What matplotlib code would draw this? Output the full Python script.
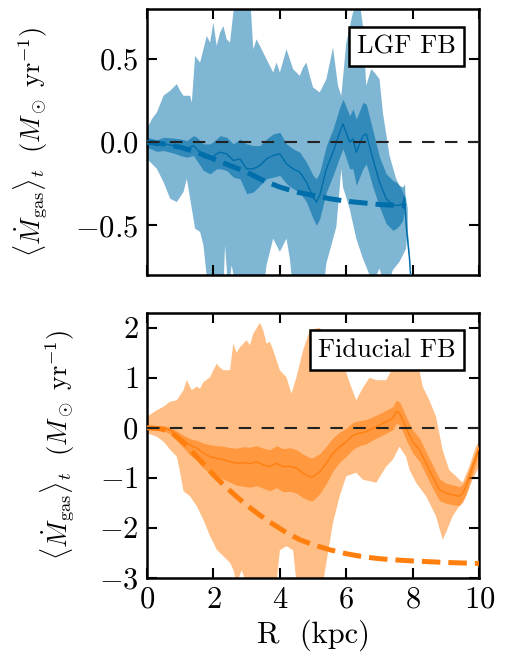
import matplotlib
matplotlib.use("Agg")
import matplotlib.pyplot as plt
import numpy as np

plt.rcParams['font.family'] = 'serif'
plt.rcParams['font.serif'] = ['cmr10']
plt.rcParams['mathtext.fontset'] = 'cm'
plt.rcParams['axes.formatter.use_mathtext'] = True
plt.rcParams['axes.unicode_minus'] = True

# ---- top panel (LGF FB) ----
r_top = [0, 0.3, 0.5, 0.8, 1.0, 1.2, 1.4, 1.5, 1.7, 1.9, 2.1, 2.2, 2.4, 2.6, 2.8, 3.0,
         3.2, 3.4, 3.6, 3.8, 4.0, 4.2, 4.4, 4.6, 4.8, 5.0, 5.1, 5.2, 5.4, 5.6, 5.8, 5.9,
         6.1, 6.2, 6.3, 6.5, 6.6, 6.8, 7.0, 7.2, 7.4, 7.5, 7.6, 7.7, 7.75, 7.8, 7.9, 7.95, 8.0]
mean_top = [0.0, -0.02, -0.01, -0.02, -0.03, -0.04, -0.02, -0.04, -0.09, -0.10, -0.07, -0.06,
            -0.07, -0.11, -0.10, -0.16, -0.16, -0.14, -0.10, -0.08, -0.07, -0.13, -0.16, -0.18,
            -0.24, -0.33, -0.36, -0.32, -0.16, -0.06, 0.06, 0.11, 0.0, 0.02, -0.06, 0.04, 0.05,
            -0.10, -0.24, -0.34, -0.38, -0.38, -0.38, -0.37, -0.33, -0.50, -0.70, -0.85, -0.95]
err_top = [0.03, 0.035, 0.04, 0.045, 0.05, 0.05, 0.06, 0.07, 0.08, 0.09, 0.09, 0.10, 0.10,
           0.10, 0.12, 0.15, 0.14, 0.12, 0.12, 0.13, 0.13, 0.12, 0.12, 0.12, 0.12, 0.13, 0.14,
           0.14, 0.14, 0.14, 0.15, 0.15, 0.16, 0.18, 0.20, 0.20, 0.18, 0.17, 0.15, 0.15, 0.15,
           0.14, 0.12, 0.10, 0.08, 0.05, 0.03, 0.02, 0.0]

r_top_hi = [0, 0.15, 0.3, 0.5, 0.7, 0.9, 1.0, 1.1, 1.3, 1.35, 1.45, 1.6, 1.7, 1.8, 1.9, 2.0,
            2.1, 2.2, 2.3, 2.4, 2.5, 2.6, 2.7, 3.1, 3.2, 3.3, 3.4, 3.5, 3.6, 3.8, 3.9, 4.0,
            4.2, 4.3, 4.4, 4.6, 4.7, 4.8, 4.9, 5.0, 5.2, 5.4, 5.6, 5.75, 5.85, 6.0, 6.2, 6.4,
            6.5, 6.6, 6.75, 6.85, 7.0, 7.1, 7.3, 7.5, 7.65, 7.8, 7.85]
hi_top = [0.08, 0.14, 0.18, 0.28, 0.31, 0.35, 0.31, 0.28, 0.28, 0.24, 0.52, 0.48, 0.56, 0.64,
          0.60, 0.72, 0.58, 0.66, 0.70, 0.62, 0.60, 0.78, 0.90, 0.90, 0.56, 0.62, 0.58, 0.54,
          0.50, 0.42, 0.48, 0.42, 0.56, 0.50, 0.44, 0.40, 0.45, 0.48, 0.40, 0.33, 0.30, 0.38,
          0.57, 0.34, 0.28, 0.60, 0.78, 0.85, 0.70, 0.34, 0.44, 0.42, 0.38, 0.18, -0.08,
          -0.22, -0.28, -0.34, -0.40]
r_top_lo = [0, 0.3, 0.5, 0.7, 0.9, 1.1, 1.2, 1.3, 1.45, 1.6, 1.7, 1.85, 2.3, 2.35, 2.45, 2.55,
            2.7, 3.5, 3.6, 3.8, 4.0, 4.2, 4.3, 4.4, 5.3, 5.4, 5.7, 5.85, 5.9, 6.1, 6.3, 6.5,
            6.8, 7.0, 7.2, 7.4, 7.6, 7.8, 7.85]
lo_top = [-0.10, -0.16, -0.24, -0.34, -0.36, -0.30, -0.22, -0.34, -0.52, -0.54, -0.62, -0.90,
          -0.90, -0.62, -0.90, -0.74, -0.90, -0.90, -0.74, -0.58, -0.66, -0.58, -0.70, -0.90,
          -0.90, -0.73, -0.51, -0.16, -0.27, -0.40, -0.58, -0.70, -0.85, -0.76, -0.90, -0.77,
          -0.72, -0.64, -0.50]

r_mod_top = [0, 0.5, 1.0, 1.5, 2.0, 2.5, 3.0, 3.5, 4.0, 4.5, 5.0, 5.5, 6.0, 6.5, 7.0, 7.5, 7.8]
mod_top = [0, -0.01, -0.03, -0.06, -0.10, -0.14, -0.18, -0.23, -0.27, -0.30, -0.32, -0.34,
           -0.355, -0.365, -0.375, -0.38, -0.385]

# ---- bottom panel (Fiducial FB) ----
r_bot = [0, 0.3, 0.5, 0.7, 0.9, 1.1, 1.3, 1.5, 1.7, 1.9, 2.1, 2.3, 2.5, 2.7, 2.9, 3.1, 3.3,
         3.5, 3.7, 3.9, 4.1, 4.3, 4.5, 4.7, 4.9, 5.0, 5.2, 5.4, 5.6, 5.8, 6.0, 6.2, 6.4, 6.6,
         6.8, 7.0, 7.2, 7.4, 7.5, 7.6, 7.7, 7.8, 8.0, 8.2, 8.4, 8.6, 8.8, 9.0, 9.2, 9.4, 9.5,
         9.6, 9.8, 10.0]
mean_bot = [0.0, 0.0, -0.01, -0.05, -0.15, -0.25, -0.35, -0.41, -0.51, -0.58, -0.61, -0.64,
            -0.68, -0.71, -0.70, -0.72, -0.68, -0.74, -0.78, -0.71, -0.78, -0.77, -0.81, -0.91,
            -0.98, -0.98, -0.88, -0.71, -0.51, -0.38, -0.28, -0.15, -0.11, -0.08, -0.01, 0.05,
            0.12, 0.19, 0.32, 0.29, 0.15, -0.01, -0.28, -0.44, -0.71, -0.98, -1.24, -1.31,
            -1.34, -1.37, -1.31, -1.18, -0.78, -0.38]
err_bot_hi = [0.03, 0.04, 0.05, 0.06, 0.08, 0.10, 0.13, 0.16, 0.20, 0.24, 0.25, 0.27, 0.28,
              0.30, 0.32, 0.33, 0.32, 0.33, 0.34, 0.35, 0.36, 0.37, 0.37, 0.38, 0.38, 0.38,
              0.36, 0.34, 0.31, 0.29, 0.27, 0.26, 0.25, 0.24, 0.23, 0.23, 0.23, 0.23, 0.23,
              0.23, 0.23, 0.23, 0.23, 0.23, 0.23, 0.23, 0.22, 0.20, 0.20, 0.19, 0.18, 0.17,
              0.14, 0.10]
err_bot_lo = [0.03, 0.04, 0.05, 0.08, 0.11, 0.15, 0.20, 0.24, 0.30, 0.34, 0.36, 0.39, 0.41,
              0.44, 0.47, 0.47, 0.48, 0.47, 0.48, 0.49, 0.50, 0.50, 0.50, 0.49, 0.48, 0.47,
              0.44, 0.40, 0.35, 0.31, 0.29, 0.28, 0.25, 0.24, 0.23, 0.23, 0.23, 0.23, 0.23,
              0.23, 0.23, 0.23, 0.23, 0.23, 0.23, 0.23, 0.22, 0.20, 0.20, 0.19, 0.18, 0.17,
              0.14, 0.10]

r_bot_hi = [0, 0.3, 0.5, 0.7, 0.9, 1.1, 1.2, 1.35, 1.5, 1.6, 1.7, 1.9, 2.0, 2.1, 2.2, 2.3,
            2.5, 2.6, 2.7, 2.8, 3.0, 3.1, 3.2, 3.4, 3.5, 3.6, 3.7, 3.8, 4.0, 4.2, 4.35, 4.5,
            4.7, 4.9, 5.2, 5.6, 6.0, 6.1, 6.3, 6.5, 6.7, 6.9, 7.2, 7.4, 7.8, 8.2, 8.3, 8.5,
            8.7, 8.9, 9.1, 9.3, 9.5, 9.7, 9.9, 10.0]
hi_bot = [0.22, 0.35, 0.42, 0.52, 0.55, 0.75, 0.95, 0.75, 0.82, 0.78, 0.91, 1.01, 1.15, 1.28,
          1.20, 1.15, 1.15, 1.68, 1.50, 1.61, 1.75, 1.65, 1.88, 2.10, 1.95, 1.68, 1.72, 1.55,
          1.15, 1.01, 0.68, 1.01, 1.55, 1.95, 2.00, 1.60, 1.10, 0.90, 0.55, 0.80, 1.00, 0.95,
          0.95, 1.20, 1.30, 1.15, 0.82, 0.55, 0.22, -0.45, -0.85, -0.97, -1.10, -0.78, -0.38,
          -0.28]
r_bot_lo = [0, 0.3, 0.5, 0.7, 0.9, 1.0, 1.1, 1.3, 1.5, 1.7, 1.9, 2.0, 2.1, 2.3, 2.5, 2.6, 2.7,
            2.85, 3.0, 3.9, 4.0, 4.2, 4.4, 4.5, 5.3, 5.4, 5.6, 5.8, 6.0, 6.3, 6.5, 6.9, 7.2,
            7.4, 7.6, 7.8, 7.9, 8.1, 8.4, 8.7, 8.9, 9.0, 9.2, 9.4, 9.6, 9.8, 10.0]
lo_bot = [-0.11, -0.18, -0.28, -0.44, -0.58, -0.90, -1.27, -1.37, -1.57, -1.84, -2.17, -2.30,
          -2.44, -2.57, -2.70, -2.84, -3.10, -2.85, -3.10, -3.10, -2.45, -2.37, -2.45, -3.10,
          -3.10, -2.70, -1.90, -1.37, -0.97, -0.90, -1.04, -1.10, -0.78, -0.64, -0.38, -0.58,
          -0.84, -1.10, -1.37, -1.77, -2.24, -2.10, -1.77, -1.57, -1.37, -1.04, -0.78]

r_mod_bot = [0, 0.4, 0.6, 0.8, 1.0, 1.2, 1.5, 1.8, 2.1, 2.4, 2.7, 3.0, 3.4, 3.8, 4.2, 4.6,
             5.0, 5.5, 6.0, 6.5, 7.0, 7.5, 8.0, 8.5, 9.0, 9.5, 10.0]
mod_bot = [0, -0.02, -0.06, -0.13, -0.24, -0.36, -0.58, -0.80, -1.01, -1.20, -1.38, -1.55,
           -1.75, -1.93, -2.10, -2.24, -2.34, -2.44, -2.52, -2.58, -2.62, -2.645, -2.665,
           -2.68, -2.695, -2.705, -2.715]

blue = '#006eaa'
orange = '#ff7f0e'
ylab = r'$\langle \dot{M}_{\rm gas} \rangle_t\ \ (M_\odot\ {\rm yr}^{-1})$'


def panel(ax, r, mean, e_hi, e_lo, r_hi, hi, r_lo, lo, r_mod, mod, color, name):
    r = np.array(r)
    mean = np.array(mean)
    # outer band as polygon (upper edge then lower edge back)
    ax.fill(np.concatenate([r_hi, r_lo[::-1]]), np.concatenate([hi, lo[::-1]]),
            color=color, alpha=0.5, lw=0, zorder=1)
    ax.fill_between(r, mean - np.array(e_lo), mean + np.array(e_hi),
                    color=color, alpha=0.6, lw=0, zorder=2)
    ax.plot(r, mean, color=color, lw=1.0, zorder=3)
    ax.plot(r_mod, mod, color=color, lw=3.6, ls='--', zorder=4)
    ax.axhline(0, color='#222222', lw=1.5, ls=(0, (6, 5)), zorder=5)
    ax.text(0.929, 0.905, name, transform=ax.transAxes, ha='right', va='top',
            fontsize=19, zorder=10,
            bbox=dict(boxstyle='square,pad=0.3', fc='white', ec='black', lw=1.8))
    ax.set_xlim(0, 10)
    ax.set_xticks([0, 2, 4, 6, 8, 10])
    ax.tick_params(direction='in', top=True, right=True, length=7, width=1.5,
                   labelsize=22, pad=6)
    for s in ax.spines.values():
        s.set_linewidth(1.8)
    ax.set_ylabel(ylab, fontsize=19)


fig = plt.figure(figsize=(5.12, 6.71), dpi=100)
ax1 = fig.add_axes([0.287, 0.590, 0.649, 0.396])
ax2 = fig.add_axes([0.287, 0.139, 0.649, 0.395])

panel(ax1, r_top, mean_top, err_top, err_top, r_top_hi, hi_top, r_top_lo, lo_top,
      r_mod_top, mod_top, blue, 'LGF FB')
ax1.set_ylim(-0.8, 0.8)
ax1.set_yticks([-0.5, 0.0, 0.5])
ax1.set_yticklabels(['$-0.5$', '$0.0$', '$0.5$'])
ax1.tick_params(labelbottom=False)
ax1.yaxis.set_label_coords(-0.292, 0.5)

panel(ax2, r_bot, mean_bot, err_bot_hi, err_bot_lo, r_bot_hi, hi_bot, r_bot_lo, lo_bot,
      r_mod_bot, mod_bot, orange, 'Fiducial FB')
ax2.set_ylim(-3, 2.3)
ax2.set_yticks([-3, -2, -1, 0, 1, 2])
ax2.set_xlabel('R  (kpc)', fontsize=22)
ax2.yaxis.set_label_coords(-0.21, 0.5)

fig.savefig('out.png', dpi=100)
